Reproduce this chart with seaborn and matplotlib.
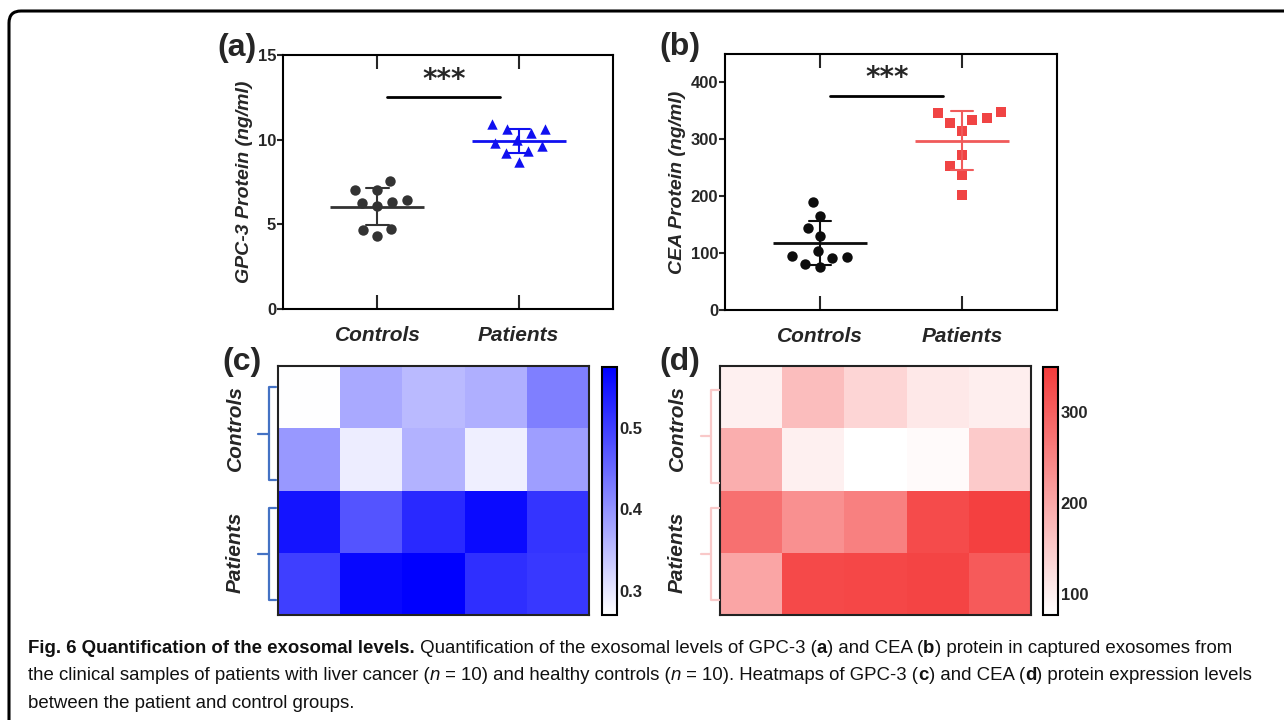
import numpy as np
import pandas as pd
import seaborn as sns
import matplotlib.pyplot as plt
from matplotlib.colors import LinearSegmentedColormap
from matplotlib.lines import Line2D
from matplotlib.patches import FancyBboxPatch
from matplotlib.transforms import IdentityTransform

# --------------------------- DATA ---------------------------
groups = ['Controls', 'Patients']
gpc3_controls = [7.56, 6.44, 6.33, 7.03, 7.03, 6.11, 6.27, 4.34, 4.73, 4.66]
gpc3_patients = [10.90, 9.98, 9.35, 10.61, 8.66, 10.41, 9.78, 9.19, 10.65, 9.63]
cea_controls = [189, 166, 145, 130, 104, 93, 95, 92, 75, 81]
cea_patients = [334, 338, 314, 348, 329, 346, 272, 254, 237, 203]

gpc3_heat = [[0.272, 0.373, 0.353, 0.366, 0.423],
             [0.393, 0.292, 0.362, 0.290, 0.386],
             [0.550, 0.474, 0.525, 0.563, 0.512],
             [0.499, 0.566, 0.575, 0.518, 0.508]]
cea_heat = [[98, 169, 136, 109, 101],
            [190, 98, 77, 84, 151],
            [276, 232, 254, 328, 343],
            [203, 330, 333, 338, 307]]

gpc3_ticks = [0, 5, 10, 15]
cea_ticks = [0, 100, 200, 300, 400]
gpc3_cbar_ticks = [0.3, 0.4, 0.5]
cea_cbar_ticks = [100, 200, 300]

# --------------------------- SETTINGS ---------------------------
sns.set_style("white")
plt.rcParams['font.family'] = ['Liberation Sans', 'DejaVu Sans']
plt.rcParams['axes.linewidth'] = 1.5

W, H = 1284, 720
fig = plt.figure(figsize=(W / 100, H / 100), dpi=100)


def box(l, t, r, b):
    return [l / W, 1 - b / H, (r - l) / W, (b - t) / H]


def fx(x, y):
    return x / W, 1 - y / H


# ---------------------- SCATTER PANELS ------------------------
def scatter_panel(ax, ctrl, pat, dot_colors, line_colors, markers, ylim, yticks,
                  ylabel, sig_y, star_y):
    df = pd.DataFrame({'group': ['Controls'] * len(ctrl) + ['Patients'] * len(pat),
                       'value': ctrl + pat})
    for g, c, lc, m in zip(groups, dot_colors, line_colors, markers):
        sub = df[df['group'] == g]
        # transparent thick edge widens the swarm spacing like the original layout
        sns.swarmplot(data=sub, x='group', y='value', order=groups, color=c,
                      marker=m, size=7.5, linewidth=3, edgecolor=(0, 0, 0, 0),
                      ax=ax, zorder=2)
        sns.pointplot(data=sub, x='group', y='value', order=groups, errorbar='sd',
                      capsize=0.16, color=lc, marker='_', markersize=67,
                      markeredgewidth=2, linestyle='none',
                      err_kws={'linewidth': 1.5}, ax=ax, zorder=3)
    ax.set_xlim(-0.67, 1.67)
    ax.set_ylim(*ylim)
    ax.set_yticks(yticks)
    ax.set_xlabel('')
    ax.set_ylabel(ylabel, fontsize=14, fontweight='bold', fontstyle='italic', labelpad=3)
    ax.tick_params(axis='x', which='both', direction='in', length=10, width=1.5,
                   top=True, bottom=True, pad=12)
    ax.tick_params(axis='y', direction='out', length=4, width=1.5, left=True, pad=1,
                   labelsize=12)
    for lab in ax.get_xticklabels():
        lab.set_fontsize(15)
        lab.set_fontweight('bold')
        lab.set_fontstyle('italic')
    for lab in ax.get_yticklabels():
        lab.set_fontweight('bold')
    for s in ax.spines.values():
        s.set_visible(True)
        s.set_linewidth(1.5)
        s.set_color('black')
    ax.plot([0.07, 0.87], [sig_y, sig_y], color='black', lw=2)
    ax.text(0.47, star_y, '***', ha='center', va='center', fontsize=20,
            fontweight='bold', family='DejaVu Sans')


ax_a = fig.add_axes(box(283, 55, 613, 309))
scatter_panel(ax_a, gpc3_controls, gpc3_patients, ['#333333', '#1010f0'],
              ['#333333', '#1010f0'], ['o', '^'], (0, 15), gpc3_ticks,
              'GPC-3 Protein (ng/ml)', 12.5, 13.5)

ax_b = fig.add_axes(box(725, 54, 1057, 310))
scatter_panel(ax_b, cea_controls, cea_patients, ['#0d0d0d', '#f04444'],
              ['#0d0d0d', '#f05a5a'], ['o', 's'], (0, 450), cea_ticks,
              'CEA Protein (ng/ml)', 376, 408)

# ---------------------- HEATMAP PANELS ------------------------
blue_cmap = LinearSegmentedColormap.from_list('wb', ['#ffffff', '#0000ff'])
red_cmap = LinearSegmentedColormap.from_list('wr', ['#ffffff', '#f43c3c'])


def heat_panel(ax, cax, values, cmap, vmin, vmax, cticks):
    sns.heatmap(np.array(values), cmap=cmap, vmin=vmin, vmax=vmax, ax=ax,
                cbar_ax=cax, xticklabels=False, yticklabels=False,
                cbar_kws={'ticks': cticks})
    ax.set_yticks([1, 3])
    ax.set_yticklabels(groups, rotation=90, va='center', fontsize=15,
                       fontweight='bold', fontstyle='italic')
    ax.tick_params(axis='y', length=0, pad=24)
    for s in ax.spines.values():
        s.set_visible(True)
        s.set_linewidth(1.5)
        s.set_color('#222222')
    cbar = ax.collections[0].colorbar
    cbar.outline.set_linewidth(1.5)
    cbar.outline.set_edgecolor('black')
    cax.tick_params(direction='in', length=4, width=1.5, left=True, right=True,
                    labelsize=12, pad=2)
    for lab in cax.get_yticklabels():
        lab.set_fontweight('bold')


ax_c = fig.add_axes(box(278, 366, 589, 615))
cax_c = fig.add_axes(box(602, 367, 617, 615))
heat_panel(ax_c, cax_c, gpc3_heat, blue_cmap, 0.27, 0.575, gpc3_cbar_ticks)

ax_d = fig.add_axes(box(720, 366, 1031, 615))
cax_d = fig.add_axes(box(1043, 367, 1058, 615))
heat_panel(ax_d, cax_d, cea_heat, red_cmap, 77, 349, cea_cbar_ticks)


# brackets next to heatmap rows
def bracket(x, top, bottom, x_serif, x_mid, color):
    mid = (top + bottom) / 2
    pts = [(x_serif, top), (x, top), (x, bottom), (x_serif, bottom)]
    xs, ys = zip(*[fx(px, py) for px, py in pts])
    fig.add_artist(Line2D(xs, ys, color=color, lw=1.6, transform=fig.transFigure))
    xs, ys = zip(fx(x_mid, mid), fx(x, mid))
    fig.add_artist(Line2D(xs, ys, color=color, lw=1.6, transform=fig.transFigure))


bracket(269, 387, 480, 276, 258, '#4472c4')
bracket(269, 508, 600, 276, 258, '#4472c4')
bracket(711, 390, 483, 719, 701, '#f9c9c9')
bracket(711, 508, 600, 719, 701, '#f9c9c9')

# panel letters
for letter, (px, py) in zip(['(a)', '(b)', '(c)', '(d)'],
                            [(237, 48), (680, 47), (242, 362), (680, 362)]):
    x, y = fx(px, py)
    fig.text(x, y, letter, ha='center', va='center', fontsize=23, fontweight='bold')

# ---------------------- CAPTION ------------------------
cap_size = 13.4
renderer = fig.canvas.get_renderer()


def rich_line(x_px, y_px, segments):
    for txt, weight, style in segments:
        x, y = fx(x_px, y_px)
        t = fig.text(x, y, txt, ha='left', va='baseline', fontsize=cap_size,
                     fontweight=weight, fontstyle=style, color='#111111')
        bb = t.get_window_extent(renderer)
        x_px = bb.x1


N, B, I = 'normal', 'bold', 'italic'
rich_line(28, 653, [
    ('Fig. 6 Quantification of the exosomal levels.', B, N),
    (' Quantification of the exosomal levels of GPC-3 (', N, N), ('a', B, N),
    (') and CEA (', N, N), ('b', B, N),
    (') protein in captured exosomes from', N, N)])
rich_line(28, 680, [
    ('the clinical samples of patients with liver cancer (', N, N), ('n', N, I),
    (' = 10) and healthy controls (', N, N), ('n', N, I),
    (' = 10). Heatmaps of GPC-3 (', N, N), ('c', B, N), (') and CEA (', N, N),
    ('d', B, N), (') protein expression levels', N, N)])
rich_line(28, 708, [('between the patient and control groups.', N, N)])

# outer frame with rounded top-left corner
frame = FancyBboxPatch((9, -40), W + 40, H - 11 + 40,
                       boxstyle='round,pad=0,rounding_size=12',
                       transform=IdentityTransform(), fill=False,
                       edgecolor='black', lw=2.2)
fig.add_artist(frame)

fig.savefig('out.png', dpi=100)
